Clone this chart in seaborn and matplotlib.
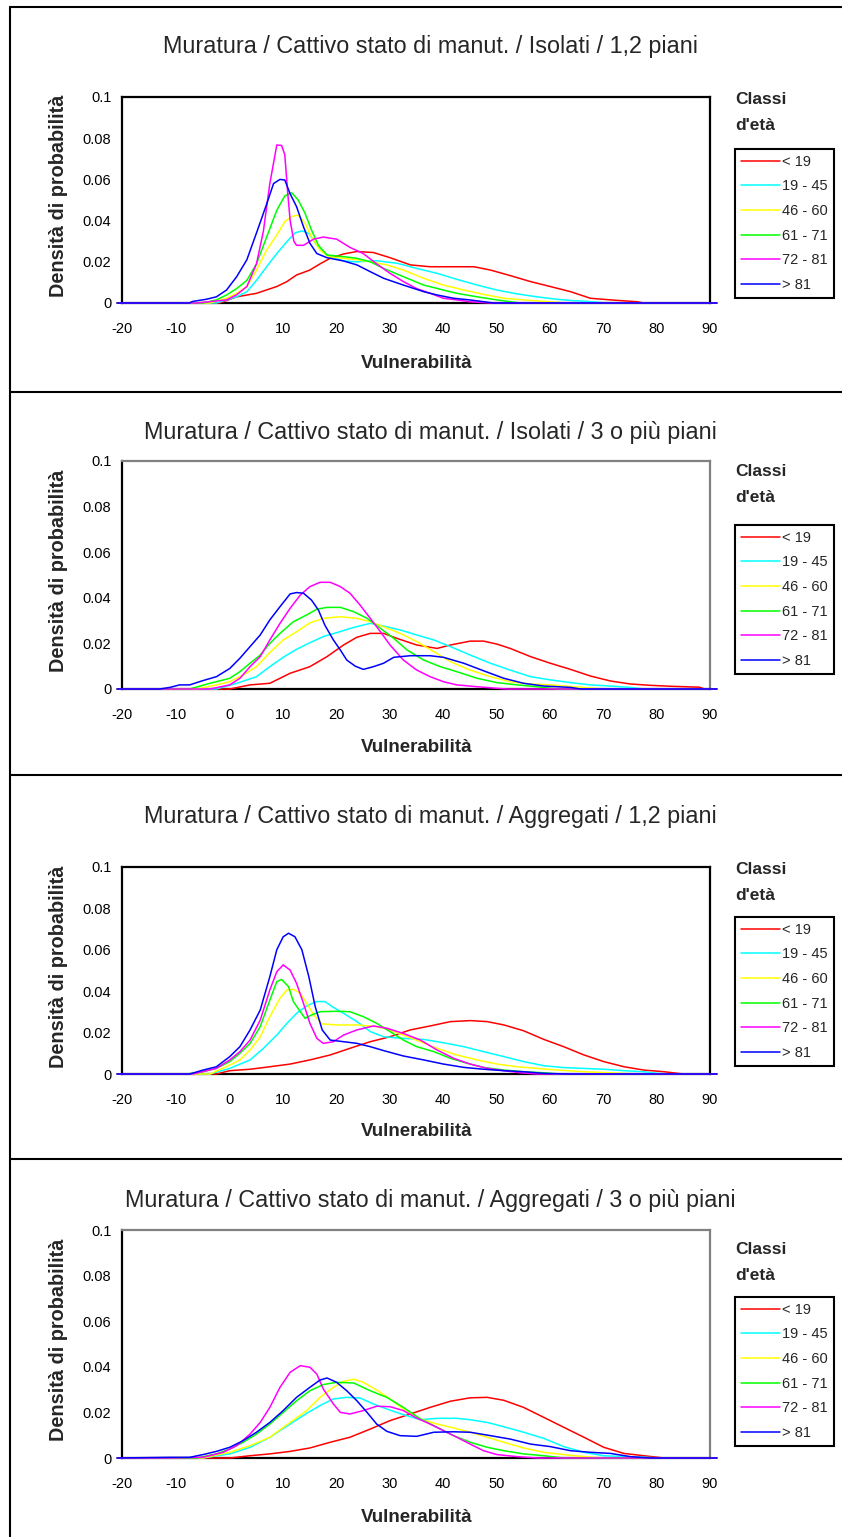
import matplotlib
matplotlib.use('Agg')
import matplotlib.pyplot as plt
from matplotlib.lines import Line2D
from matplotlib.ticker import FuncFormatter
import pandas as pd
import seaborn as sns

sns.set_style('white')
plt.rcParams['font.family'] = ['Liberation Sans', 'DejaVu Sans']
plt.rcParams['axes.unicode_minus'] = False

"""
Data read off the four density charts (vulnerability, x / density, y)
"""
CLASSES = ['< 19', '19 - 45', '46 - 60', '61 - 71', '72 - 81', '> 81']
COLORS = ['#FF0000', '#00FFFF', '#FFFF00', '#00FF00', '#FF00FF', '#0000FF']
TITLES = ['Muratura / Cattivo stato di manut. / Isolati / 1,2 piani',
          'Muratura / Cattivo stato di manut. / Isolati / 3 o più piani',
          'Muratura / Cattivo stato di manut. / Aggregati / 1,2 piani',
          'Muratura / Cattivo stato di manut. / Aggregati / 3 o più piani']
X_TICKS = [-20, -10, 0, 10, 20, 30, 40, 50, 60, 70, 80, 90]
Y_TICKS = [0, 0.02, 0.04, 0.06, 0.08, 0.1]
X_LO, X_HI = -21, 91.3  # range of the estimated densities

# panel 1 - Isolati / 1,2 piani
p1_lt19_x = [-1.8, 1.4, 5.1, 8.9, 10.8, 12.6, 15.1, 17.0, 18.9, 21.4, 23.9, 27.0, 30.1, 33.9, 37.6, 41.4,
             45.8, 48.9, 52.6, 56.4, 60.1, 63.9, 67.6, 71.4, 76.4, 77.6]
p1_lt19_y = [0, 0.003, 0.0047, 0.008, 0.0104, 0.0136, 0.016, 0.019, 0.0217, 0.0238, 0.025, 0.0245, 0.022,
             0.0185, 0.0176, 0.0176, 0.0176, 0.016, 0.0133, 0.0104, 0.008, 0.0055, 0.0023, 0.0015, 0.0006, 0]
p1_19_45_x = [-2.4, 1.4, 3.3, 5.1, 7.0, 8.9, 10.8, 12.3, 13.6, 14.9, 16.4, 18.3, 21.4, 23.9, 27.6, 31.4,
              35.1, 38.9, 42.6, 46.4, 50.1, 53.9, 57.6, 61.4, 64.0, 67.0, 70.8]
p1_19_45_y = [0, 0.003, 0.0055, 0.011, 0.0176, 0.024, 0.0298, 0.034, 0.035, 0.0338, 0.028, 0.0233, 0.0204,
              0.020, 0.0205, 0.0193, 0.0168, 0.0144, 0.0115, 0.0087, 0.0063, 0.0044, 0.003, 0.0018, 0.0012,
              0.0008, 0]
p1_46_60_x = [-3.6, -0.5, 1.4, 3.3, 5.1, 7.0, 8.9, 10.4, 11.7, 12.9, 14.2, 15.4, 17.0, 18.6, 21.4, 23.9,
              26.4, 29.5, 32.6, 36.4, 40.1, 43.9, 47.6, 51.4, 55.1, 58.9, 63.3]
p1_46_60_y = [0, 0.0023, 0.0047, 0.008, 0.016, 0.0257, 0.033, 0.0395, 0.042, 0.0427, 0.0387, 0.032, 0.0257,
              0.0225, 0.0217, 0.021, 0.020, 0.0185, 0.016, 0.012, 0.0087, 0.0063, 0.0042, 0.0023, 0.0015,
              0.0008, 0]
p1_61_71_x = [-4.9, -2.4, -0.5, 1.4, 3.3, 5.1, 7.0, 8.9, 10.4, 11.7, 12.9, 14.2, 15.4, 16.7, 18.3, 21.4,
              23.9, 26.4, 28.9, 32.6, 36.4, 40.1, 42.6, 46.4, 50.1, 54.5]
p1_61_71_y = [0, 0.0015, 0.0039, 0.007, 0.011, 0.019, 0.032, 0.045, 0.052, 0.0535, 0.050, 0.0435, 0.0354,
              0.028, 0.0233, 0.0225, 0.0217, 0.020, 0.0168, 0.0128, 0.0087, 0.0063, 0.0047, 0.003, 0.0015, 0]
p1_72_81_x = [-6.0, -0.5, 1.4, 3.3, 5.1, 6.4, 7.6, 8.9, 9.8, 10.4, 10.9, 11.4, 12.1, 12.6, 13.9, 15.8,
              17.6, 20.1, 22.6, 25.1, 27.6, 30.1, 32.6, 35.1, 37.6, 40.1, 42.6, 45.0, 48.9]
p1_72_81_y = [0, 0.0015, 0.004, 0.008, 0.019, 0.035, 0.058, 0.0767, 0.0765, 0.072, 0.055, 0.040, 0.030,
              0.028, 0.028, 0.031, 0.032, 0.031, 0.027, 0.024, 0.019, 0.0144, 0.0104, 0.007, 0.0047, 0.0023,
              0.0015, 0.0006, 0]
p1_gt81_x = [-7.5, -6.8, -4.3, -2.4, -0.5, 1.4, 3.3, 5.1, 7.0, 8.3, 9.5, 10.4, 11.4, 12.6, 13.9, 15.1, 16.4,
             18.3, 21.4, 23.9, 26.4, 28.9, 32.6, 36.4, 38.9, 42.0, 45.0, 49.5]
p1_gt81_y = [0, 0.0008, 0.0018, 0.003, 0.0063, 0.0128, 0.021, 0.034, 0.048, 0.058, 0.060, 0.0597, 0.053,
             0.0468, 0.037, 0.029, 0.024, 0.022, 0.0204, 0.0185, 0.0152, 0.012, 0.0087, 0.0055, 0.0039,
             0.0023, 0.0015, 0]

# panel 2 - Isolati / 3 o più piani
p2_lt19_x = [0.1, 3.9, 7.6, 11.4, 15.1, 18.3, 21.4, 23.9, 26.4, 28.9, 31.4, 35.1, 38.9, 41.4, 45.1, 47.6,
             50.1, 52.6, 56.4, 60.1, 63.9, 67.6, 71.4, 75.1, 78.9, 82.6, 88.0, 89.0]
p2_lt19_y = [0, 0.0018, 0.0025, 0.0069, 0.0098, 0.0142, 0.0193, 0.0227, 0.0244, 0.0244, 0.0222, 0.0193,
             0.0178, 0.0193, 0.021, 0.021, 0.0197, 0.0178, 0.0142, 0.0113, 0.0086, 0.0057, 0.0035, 0.0022,
             0.0016, 0.0012, 0.0008, 0]
p2_19_45_x = [-2.4, 1.4, 5.1, 7.6, 10.1, 12.6, 15.1, 17.6, 20.1, 23.3, 26.4, 28.9, 32.0, 35.1, 38.3, 41.4,
              45.1, 48.9, 52.6, 56.4, 60.1, 63.9, 67.6, 71.4, 75.1, 77.6]
p2_19_45_y = [0, 0.0025, 0.0054, 0.0098, 0.0139, 0.0174, 0.0203, 0.023, 0.0247, 0.027, 0.0288, 0.0276,
              0.0259, 0.0237, 0.0215, 0.0186, 0.0149, 0.0113, 0.0083, 0.0054, 0.004, 0.0028, 0.0018, 0.0013,
              0.0007, 0]
p2_46_60_x = [-6.1, -2.4, 0.1, 2.6, 5.1, 7.6, 10.1, 12.6, 15.1, 17.6, 20.8, 23.9, 26.4, 28.9, 32.0, 35.1,
              38.3, 41.4, 45.1, 48.9, 52.6, 56.4, 60.1, 63.9, 70.1]
p2_46_60_y = [0, 0.0018, 0.0032, 0.0061, 0.0098, 0.016, 0.0215, 0.0251, 0.029, 0.031, 0.0317, 0.031, 0.0295,
              0.0273, 0.0244, 0.0208, 0.0164, 0.012, 0.0083, 0.0054, 0.0032, 0.0022, 0.0018, 0.0011, 0]
p2_61_71_x = [-7.4, -3.6, 0.1, 2.0, 3.9, 5.8, 7.6, 9.5, 12.0, 14.5, 16.4, 18.3, 20.8, 23.3, 25.8, 28.3,
              30.8, 33.3, 36.4, 39.5, 42.6, 46.4, 50.1, 53.9, 57.6, 61.4]
p2_61_71_y = [0, 0.0025, 0.0047, 0.0076, 0.0113, 0.0149, 0.020, 0.0244, 0.0295, 0.0325, 0.035, 0.0358,
              0.0358, 0.0339, 0.031, 0.0266, 0.0222, 0.0171, 0.0127, 0.0098, 0.0076, 0.0047, 0.0028, 0.0018,
              0.001, 0]
p2_72_81_x = [-3.6, 0.1, 2.0, 3.9, 5.8, 7.6, 9.5, 11.4, 13.3, 15.1, 17.0, 18.9, 20.8, 22.6, 24.5, 26.4,
              28.3, 30.1, 32.6, 35.1, 37.6, 40.1, 42.6, 46.4, 50.1, 52.0]
p2_72_81_y = [0, 0.0018, 0.0047, 0.0098, 0.0142, 0.0215, 0.0288, 0.0354, 0.0412, 0.0449, 0.0468, 0.0468,
              0.0449, 0.042, 0.0368, 0.031, 0.0251, 0.0193, 0.0127, 0.0083, 0.0054, 0.0032, 0.0018, 0.001,
              0.0003, 0]
p2_gt81_x = [-13.0, -11.1, -9.3, -7.4, -4.9, -2.4, 0.1, 2.0, 3.9, 5.8, 7.6, 9.5, 11.4, 12.6, 13.9, 15.4,
             16.7, 17.9, 19.5, 20.8, 22.0, 23.6, 25.1, 27.0, 28.9, 30.8, 33.9, 37.6, 40.1, 43.9, 47.6, 51.4,
             55.1, 58.9, 63.9, 65.8]
p2_gt81_y = [0, 0.0007, 0.0018, 0.0018, 0.0037, 0.0054, 0.009, 0.0135, 0.0186, 0.0237, 0.0303, 0.0361,
             0.0417, 0.0423, 0.042, 0.039, 0.0346, 0.028, 0.0215, 0.0171, 0.0127, 0.010, 0.0086, 0.0098,
             0.0113, 0.0139, 0.0146, 0.0146, 0.0139, 0.0113, 0.008, 0.0047, 0.0025, 0.0013, 0.0007, 0]

# panel 3 - Aggregati / 1,2 piani
p3_lt19_x = [-2.4, 0.1, 3.9, 7.6, 11.4, 15.1, 18.9, 22.6, 26.4, 30.1, 33.9, 37.6, 41.4, 45.1, 48.3, 51.4,
             55.1, 58.9, 62.6, 66.4, 70.1, 73.9, 77.6, 81.4, 85.0]
p3_lt19_y = [0, 0.0016, 0.0023, 0.0035, 0.0048, 0.0068, 0.0092, 0.0124, 0.0156, 0.018, 0.0213, 0.0232,
             0.0253, 0.0258, 0.0253, 0.0237, 0.0209, 0.0167, 0.0132, 0.0092, 0.006, 0.0035, 0.0019, 0.0011, 0]
p3_19_45_x = [-3.6, 0.1, 3.9, 6.4, 8.9, 10.8, 12.6, 14.5, 16.4, 17.9, 19.5, 21.4, 23.9, 26.4, 28.9, 32.6,
              36.4, 40.1, 43.9, 47.6, 51.4, 55.1, 58.9, 62.6, 66.4, 70.1, 73.9, 77.6, 80.1, 82.6]
p3_19_45_y = [0, 0.0027, 0.0068, 0.0124, 0.0188, 0.0245, 0.0293, 0.0329, 0.035, 0.035, 0.0322, 0.0293,
              0.0253, 0.0205, 0.018, 0.0172, 0.0167, 0.0151, 0.0132, 0.0108, 0.0084, 0.006, 0.004, 0.0031,
              0.0027, 0.0023, 0.0016, 0.0011, 0.0003, 0]
p3_46_60_x = [-3.6, 0.1, 2.0, 3.9, 5.8, 7.6, 9.5, 10.8, 12.0, 13.3, 14.5, 15.8, 17.4, 20.1, 23.9, 27.6, 30.1,
              32.6, 35.8, 38.9, 42.6, 46.4, 50.1, 53.9, 57.6, 61.4, 66.4, 71.4, 76.4]
p3_46_60_y = [0, 0.0043, 0.0068, 0.0116, 0.018, 0.0277, 0.0366, 0.0406, 0.0409, 0.039, 0.0341, 0.0285,
              0.0242, 0.0237, 0.0237, 0.0229, 0.0213, 0.0188, 0.0156, 0.0124, 0.0092, 0.0068, 0.0048, 0.0035,
              0.0027, 0.0019, 0.0011, 0.0006, 0]
p3_61_71_x = [-8.0, -4.9, -2.4, 0.1, 2.0, 3.9, 5.8, 7.6, 8.9, 9.8, 11.1, 12.0, 13.3, 14.2, 15.4, 17.0, 20.1,
              22.6, 25.1, 27.6, 30.1, 32.6, 35.1, 38.3, 41.4, 44.5, 47.6, 51.4, 55.1, 58.9, 61.4]
p3_61_71_y = [0, 0.0011, 0.0027, 0.006, 0.010, 0.0148, 0.0229, 0.0357, 0.0446, 0.0457, 0.0422, 0.035,
              0.0301, 0.0269, 0.0285, 0.0301, 0.0303, 0.0301, 0.0277, 0.0245, 0.0205, 0.0164, 0.0132, 0.0108,
              0.0076, 0.0052, 0.0032, 0.0019, 0.0011, 0.0006, 0]
p3_72_81_x = [-6.8, -2.4, 0.1, 2.0, 3.9, 5.8, 7.6, 8.9, 10.1, 11.4, 12.6, 13.9, 15.1, 16.4, 17.6, 19.5,
              21.4, 23.9, 27.0, 29.5, 32.6, 35.8, 38.9, 42.0, 45.1, 48.3, 51.4, 54.5, 57.6]
p3_72_81_y = [0, 0.0027, 0.0068, 0.0108, 0.0164, 0.026, 0.0406, 0.0494, 0.0527, 0.0502, 0.0438, 0.0341,
              0.0245, 0.0172, 0.0148, 0.0156, 0.0188, 0.0213, 0.0232, 0.0221, 0.0196, 0.0164, 0.0116, 0.0076,
              0.0048, 0.0027, 0.0016, 0.0006, 0]
p3_gt81_x = [-7.4, -4.9, -2.4, 0.1, 2.0, 3.9, 5.8, 7.6, 8.9, 10.1, 11.1, 12.3, 13.6, 14.9, 16.1, 17.4, 18.9,
             21.4, 23.9, 26.4, 28.9, 32.6, 36.4, 40.1, 43.9, 47.6, 51.4, 55.1, 58.9, 63.9]
p3_gt81_y = [0, 0.0019, 0.0035, 0.0084, 0.0132, 0.0213, 0.0309, 0.047, 0.060, 0.0663, 0.068, 0.0663, 0.060,
             0.047, 0.0325, 0.0213, 0.0164, 0.0156, 0.0148, 0.0132, 0.0113, 0.0087, 0.0068, 0.0048, 0.0032,
             0.0023, 0.0016, 0.0011, 0.0003, 0]

# panel 4 - Aggregati / 3 o più piani
p4_lt19_x = [0.1, 3.9, 7.6, 11.4, 15.1, 18.9, 22.6, 26.4, 30.1, 33.9, 37.6, 41.4, 45.1, 48.3, 51.4, 55.1,
             58.9, 62.6, 66.4, 70.1, 73.9, 77.6, 81.4]
p4_lt19_y = [0, 0.001, 0.0018, 0.0029, 0.0044, 0.0069, 0.0091, 0.0127, 0.0164, 0.0193, 0.0222, 0.0249,
             0.0264, 0.0266, 0.0253, 0.0222, 0.0178, 0.0135, 0.0091, 0.0047, 0.002, 0.001, 0]
p4_19_45_x = [-4.9, 0.1, 3.9, 7.6, 11.4, 14.5, 17.0, 19.5, 22.0, 24.5, 27.0, 29.5, 32.6, 35.8, 38.9, 42.6,
              45.1, 48.3, 51.4, 55.1, 58.9, 62.6, 66.4, 70.1, 73.9, 77.6, 81.4]
p4_19_45_y = [0, 0.0018, 0.0047, 0.0091, 0.0149, 0.0196, 0.023, 0.0259, 0.0266, 0.0263, 0.0237, 0.0215,
              0.019, 0.0168, 0.0174, 0.0174, 0.0168, 0.0156, 0.0137, 0.0113, 0.0086, 0.005, 0.0025, 0.001,
              0.0006, 0.0003, 0]
p4_46_60_x = [-4.9, 0.1, 3.9, 7.6, 11.4, 14.5, 17.0, 19.5, 21.4, 23.3, 25.1, 27.6, 30.1, 32.6, 35.8, 38.9,
              42.0, 45.1, 48.3, 51.4, 55.1, 58.9, 62.6, 66.4, 70.1]
p4_46_60_y = [0, 0.0025, 0.0054, 0.0091, 0.0156, 0.0208, 0.0266, 0.031, 0.0336, 0.0346, 0.0332, 0.0298,
              0.0259, 0.0215, 0.0171, 0.0149, 0.0132, 0.0113, 0.0091, 0.0069, 0.0044, 0.0025, 0.0015, 0.0006, 0]
p4_61_71_x = [-6.1, -2.4, 0.1, 2.6, 5.1, 7.6, 10.1, 12.6, 15.1, 17.6, 20.1, 23.3, 26.4, 29.5, 32.6, 35.8,
              38.9, 42.0, 45.1, 48.3, 51.4, 55.1, 58.9, 62.6]
p4_61_71_y = [0, 0.0018, 0.0039, 0.0069, 0.0105, 0.0149, 0.020, 0.0251, 0.0295, 0.0322, 0.0332, 0.0329,
              0.0295, 0.0266, 0.0222, 0.0171, 0.0135, 0.0098, 0.0069, 0.0047, 0.0032, 0.0018, 0.001, 0]
p4_72_81_x = [-11.1, -4.9, -1.1, 1.4, 3.9, 5.8, 7.6, 9.5, 11.4, 13.3, 15.1, 16.4, 17.6, 19.5, 20.8, 22.6,
              25.1, 27.6, 30.1, 32.6, 35.1, 37.6, 40.1, 42.6, 45.1, 47.6, 50.1, 53.9, 57.6]
p4_72_81_y = [0, 0.0003, 0.0025, 0.0054, 0.0105, 0.0156, 0.0222, 0.031, 0.0376, 0.0405, 0.0398, 0.0368,
              0.0303, 0.0237, 0.020, 0.0193, 0.0208, 0.0227, 0.0225, 0.0208, 0.0175, 0.0149, 0.012, 0.0091,
              0.0061, 0.0032, 0.0015, 0.0006, 0]
p4_gt81_x = [-11.1, -7.4, -4.9, -2.4, 0.1, 2.6, 5.1, 7.6, 10.1, 12.6, 15.1, 17.0, 18.3, 20.1, 22.0, 23.9,
             25.8, 27.6, 29.5, 32.0, 35.1, 38.3, 42.0, 45.1, 48.9, 52.6, 56.4, 60.1, 63.9, 67.6, 71.4, 75.1,
             78.9]
p4_gt81_y = [0.0003, 0.0003, 0.0015, 0.0029, 0.0047, 0.0076, 0.0113, 0.0156, 0.0208, 0.0266, 0.031, 0.0342,
             0.0351, 0.0332, 0.0295, 0.0251, 0.020, 0.0149, 0.0117, 0.0098, 0.0095, 0.0113, 0.0115, 0.0113,
             0.0098, 0.0083, 0.0061, 0.005, 0.0032, 0.0025, 0.002, 0.0006, 0]

PANELS = [
    [(p1_lt19_x, p1_lt19_y), (p1_19_45_x, p1_19_45_y), (p1_46_60_x, p1_46_60_y),
     (p1_61_71_x, p1_61_71_y), (p1_72_81_x, p1_72_81_y), (p1_gt81_x, p1_gt81_y)],
    [(p2_lt19_x, p2_lt19_y), (p2_19_45_x, p2_19_45_y), (p2_46_60_x, p2_46_60_y),
     (p2_61_71_x, p2_61_71_y), (p2_72_81_x, p2_72_81_y), (p2_gt81_x, p2_gt81_y)],
    [(p3_lt19_x, p3_lt19_y), (p3_19_45_x, p3_19_45_y), (p3_46_60_x, p3_46_60_y),
     (p3_61_71_x, p3_61_71_y), (p3_72_81_x, p3_72_81_y), (p3_gt81_x, p3_gt81_y)],
    [(p4_lt19_x, p4_lt19_y), (p4_19_45_x, p4_19_45_y), (p4_46_60_x, p4_46_60_y),
     (p4_61_71_x, p4_61_71_y), (p4_72_81_x, p4_72_81_y), (p4_gt81_x, p4_gt81_y)],
]

"""
Layout (pixel positions in the 842 x 1537 page)
"""
W, H = 842, 1537
AX_LEFT, AX_RIGHT = 122.4, 710
AX_TOP = [97, 461, 867, 1230]
AX_BOT = [303, 689, 1074, 1458]
TITLE_Y = [47, 432, 817, 1200]
XLAB_Y = [363, 747, 1132, 1517]
LEG_TITLE_Y = [100, 472, 870, 1250]
LEG_TOP = [149, 525, 917, 1297]
FRAME_COLOR = ['black', '#808080', 'black', '#808080']
SEP_Y = [7, 392, 775, 1159]


def fx(px):
    return px / W


def fy(py):
    return 1 - py / H


fig = plt.figure(figsize=(W / 100, H / 100), dpi=100)

# page frame: left edge and separators between charts
fig.add_artist(Line2D([fx(10), fx(10)], [fy(SEP_Y[0]), 0], transform=fig.transFigure, color='black', lw=1.5))
for sy in SEP_Y:
    fig.add_artist(Line2D([fx(10), 1], [fy(sy), fy(sy)], transform=fig.transFigure, color='black', lw=1.5))

for i, series in enumerate(PANELS):
    rows = []
    for cls, (xs, ys) in zip(CLASSES, series):
        xx = [X_LO] + list(xs) + [X_HI]
        yy = [0] + list(ys) + [0]
        rows.append(pd.DataFrame({'Vulnerabilita': xx, 'Densita': yy, 'Classe': cls}))
    df = pd.concat(rows, ignore_index=True)

    ax = fig.add_axes([fx(AX_LEFT), fy(AX_BOT[i]), fx(AX_RIGHT) - fx(AX_LEFT), (AX_BOT[i] - AX_TOP[i]) / H])
    sns.lineplot(data=df, x='Vulnerabilita', y='Densita', hue='Classe', hue_order=CLASSES,
                 palette=COLORS, estimator=None, sort=False, linewidth=1.1, ax=ax)
    # lines sit on top of the axis, as in the original
    for ln in ax.lines:
        ln.set_clip_on(False)
        ln.set_zorder(3)

    ax.set_xlim(-20, 90)
    ax.set_ylim(0, 0.1)
    ax.set_xticks(X_TICKS)
    ax.set_yticks(Y_TICKS)
    ax.xaxis.set_major_formatter(FuncFormatter(lambda v, p: '%g' % v))
    ax.yaxis.set_major_formatter(FuncFormatter(lambda v, p: '%g' % round(v, 3)))
    ax.set_xlabel('')
    ax.set_ylabel('')
    ax.tick_params(axis='x', direction='inout', length=6, width=1.2, pad=10.5, labelsize=10.5, colors='black')
    ax.tick_params(axis='y', direction='inout', length=6, width=1.2, pad=5, labelsize=10.5, colors='black')
    for side in ['left', 'bottom']:
        ax.spines[side].set_color('black')
        ax.spines[side].set_linewidth(1.6)
    for side in ['top', 'right']:
        ax.spines[side].set_color(FRAME_COLOR[i])
        ax.spines[side].set_linewidth(1.6)

    sns.move_legend(ax, 'upper left', bbox_to_anchor=(fx(735), fy(LEG_TOP[i])),
                    bbox_transform=fig.transFigure, title=None, frameon=True, fontsize=10.5,
                    handlelength=2.7, handletextpad=0.15, labelspacing=0.73, borderpad=0.4,
                    borderaxespad=0, fancybox=False)
    leg = ax.get_legend()
    leg.get_frame().set_edgecolor('black')
    leg.get_frame().set_linewidth(1.5)
    leg.get_frame().set_alpha(1)

    fig.text(fx(430), fy(TITLE_Y[i]), TITLES[i], ha='center', va='center', fontsize=16.8)
    fig.text(fx(417), fy(XLAB_Y[i]), 'Vulnerabilità', ha='center', va='center', fontsize=13.5,
             fontweight='bold')
    fig.text(fx(59), fy((AX_TOP[i] + AX_BOT[i]) / 2 - 4), 'Densità di probabilità', ha='center',
             va='center', rotation=90, fontsize=14.3, fontweight='bold')
    fig.text(fx(735), fy(LEG_TITLE_Y[i]), 'Classi', ha='left', va='center', fontsize=12.5,
             fontweight='bold')
    fig.text(fx(735), fy(LEG_TITLE_Y[i] + 25), "d'età", ha='left', va='center', fontsize=12.5,
             fontweight='bold')

plt.savefig('out.png', dpi=100)
